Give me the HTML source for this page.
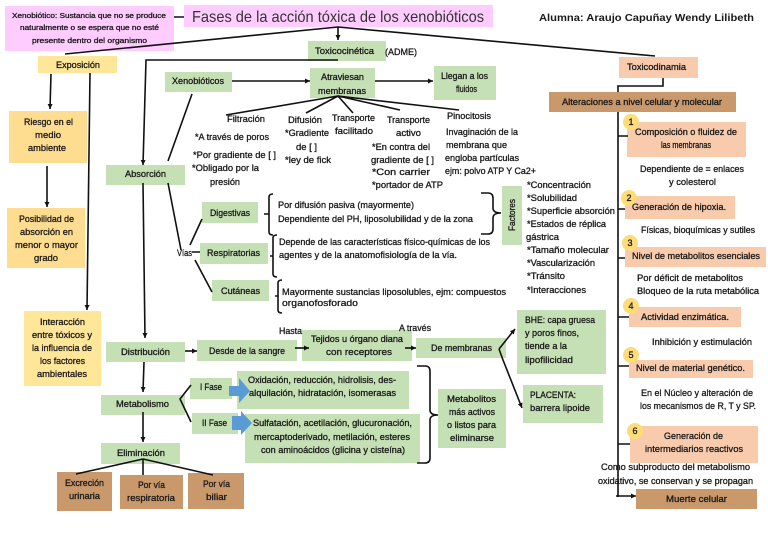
<!DOCTYPE html>
<html><head><meta charset="utf-8"><style>
html,body{margin:0;padding:0;background:#fff;width:768px;height:543px;overflow:hidden}
svg{display:block;filter:blur(.35px)}
text{font-family:"Liberation Sans",sans-serif;font-size:9px;fill:#1a1a1a;stroke:#1a1a1a;stroke-width:.3}
.l{stroke:#111;stroke-width:1.6;fill:none}
</style></head><body>
<svg width="768" height="543" viewBox="0 0 768 543" xmlns="http://www.w3.org/2000/svg">
<defs><marker id="a" markerWidth="6" markerHeight="6" refX="5" refY="2.5" orient="auto" markerUnits="userSpaceOnUse"><path d="M0 0L5 2.5L0 5z" fill="#111"/></marker></defs>
<g fill="#FFCCFF"><rect x="5" y="6" width="169" height="45"/><rect x="184" y="5" width="309" height="22"/></g>
<g fill="#FFE699"><rect x="38" y="56" width="79" height="17"/><rect x="9" y="111" width="78" height="52" fill="#FFDD90"/><rect x="7" y="208" width="78" height="60" fill="#FFDD90"/><rect x="24" y="311" width="77" height="75"/></g>
<g fill="#C5E0B4">
<rect x="308" y="41" width="78" height="20"/><rect x="165" y="72" width="67" height="20"/><rect x="310" y="68" width="65" height="30"/><rect x="434" y="66" width="62" height="34"/>
<rect x="106" y="165" width="79" height="20"/><rect x="202" y="202" width="56" height="21"/><rect x="200" y="243" width="68" height="21"/><rect x="212" y="280" width="57" height="21"/><rect x="502" y="186" width="20" height="59"/>
<rect x="106" y="342" width="79" height="20"/><rect x="197" y="340" width="100" height="21"/><rect x="302" y="330" width="110" height="31"/><rect x="416" y="338" width="90" height="20"/><rect x="517" y="310" width="89" height="64"/><rect x="523" y="385" width="80" height="38"/><rect x="438" y="389" width="68" height="59"/>
<rect x="101" y="395" width="84" height="20"/><rect x="190" y="378" width="42" height="21"/><rect x="192" y="413" width="46" height="21"/><rect x="237" y="371" width="172" height="38"/><rect x="245" y="414" width="175" height="49"/><rect x="101" y="443" width="79" height="21"/>
</g>
<g fill="#F8CBAD"><rect x="619" y="57" width="79" height="21"/><rect x="627" y="122" width="119" height="35"/><rect x="625" y="196" width="110" height="23"/><rect x="625" y="247" width="141" height="20"/><rect x="629" y="307" width="112" height="20"/><rect x="629" y="360" width="124" height="18"/><rect x="630" y="426" width="128" height="37"/></g>
<g fill="#C9986B"><rect x="549" y="92" width="187" height="20"/><rect x="636" y="489" width="121" height="20"/><rect x="57" y="472" width="55" height="39"/><rect x="120" y="475" width="63" height="34"/><rect x="188" y="473" width="56" height="36"/></g>
<g fill="#FFDC78"><circle cx="631" cy="122" r="8"/><circle cx="629" cy="198" r="8"/><circle cx="630" cy="243" r="8"/><circle cx="631" cy="306" r="8"/><circle cx="631" cy="355" r="8"/><circle cx="635" cy="431" r="8"/></g>
<g fill="#5B9BD5"><path d="M229 386H239V378L250 391L239 403V396H229z"/><path d="M232 416H241V411L252 423L241 435V430H232z"/></g>

<g class="l">
<path d="M174 17H184M65 54L338 27L655 56"/><path d="M338 27V40" marker-end="url(#a)"/>
<path d="M338 60H146L143 165" marker-end="url(#a)"/>
<path d="M51 74L50 109" marker-end="url(#a)"/><path d="M90 73L87 310" marker-end="url(#a)"/><path d="M47 166V207" marker-end="url(#a)"/>
<path d="M232 81H310" marker-end="url(#a)"/><path d="M375 81H433" marker-end="url(#a)"/><path d="M192 94L168 161"/>
<path d="M226 115L338 96L306 113M338 96L353 113M338 96L400 110M338 96L459 110"/>
<path d="M143 183L145 338" marker-end="url(#a)"/><path d="M168 183L181 250M190 245L202 219M192 252H200M195 260L212 292"/>
<path d="M273 194Q269 194 269 197V232Q269 235 273 235M269 214H264"/>
<path d="M277 235Q273 235 273 238V274Q273 277 277 277M273 256H270"/>
<path d="M282 280Q278 280 278 283V310Q278 313 282 313M278 296H275"/>
<path d="M481 193H488Q493 193 493 198V208Q493 213 501 213Q493 213 493 218V229Q493 234 488 234H481"/>
<path d="M185 351H197" marker-end="url(#a)"/><path d="M295 348H309" marker-end="url(#a)"/><path d="M405 348H416" marker-end="url(#a)"/>
<path d="M499 349L515 329" marker-end="url(#a)"/><path d="M499 349L503 360L522 408" marker-end="url(#a)"/>
<path d="M144 362L143 392" marker-end="url(#a)"/><path d="M143 412V442" marker-end="url(#a)"/><path d="M191 385L180 399L191 422"/>
<path d="M417 366H425Q430 366 430 371V410Q430 415 438 415Q430 415 430 420V458Q430 463 425 463H417"/>
<path d="M143 459L76 474M143 459V475M143 459L213 475"/>
<path d="M663 78V86H618V92M618 112V497M618 136H628M618 209H625M618 258H625M618 317H629M618 366H629M618 444H630"/><path d="M616 496H636" marker-end="url(#a)"/>
</g>

<g>
<text x="192" y="22" textLength="292" lengthAdjust="spacingAndGlyphs" style="font-size:16px;stroke:none;fill:#333">Fases de la acción tóxica de los xenobióticos</text>
<text x="539" y="21" textLength="215" lengthAdjust="spacingAndGlyphs" style="font-size:10px;font-weight:bold;stroke:none">Alumna: Araujo Capuñay Wendy Lilibeth</text>
<text x="12" y="18" textLength="154" lengthAdjust="spacingAndGlyphs" style="font-size:7px">Xenobiótico: Sustancia que no se produce</text>
<text x="20" y="30" textLength="139" lengthAdjust="spacingAndGlyphs" style="font-size:7px">naturalmente o se espera que no esté</text>
<text x="32" y="43" textLength="115" lengthAdjust="spacingAndGlyphs" style="font-size:7px">presente dentro del organismo</text>
<text x="315" y="54" textLength="59" lengthAdjust="spacingAndGlyphs">Toxicocinética</text>
<text x="385" y="55" textLength="32" lengthAdjust="spacingAndGlyphs">(ADME)</text>
<text x="56" y="68" textLength="44" lengthAdjust="spacingAndGlyphs">Exposición</text>
<text x="172" y="84" textLength="52" lengthAdjust="spacingAndGlyphs">Xenobióticos</text>
<text x="321" y="80" textLength="43" lengthAdjust="spacingAndGlyphs">Atraviesan</text>
<text x="318" y="94" textLength="48" lengthAdjust="spacingAndGlyphs">membranas</text>
<text x="441" y="79" textLength="47" lengthAdjust="spacingAndGlyphs">Llegan a los</text>
<text x="456" y="92" textLength="21" lengthAdjust="spacingAndGlyphs">fluidos</text>
<text x="627" y="70" textLength="59" lengthAdjust="spacingAndGlyphs">Toxicodinamia</text>
<text x="562" y="105" textLength="160" lengthAdjust="spacingAndGlyphs">Alteraciones a nivel celular y molecular</text>
<text x="635" y="135" textLength="102" lengthAdjust="spacingAndGlyphs">Composición o fluidez de</text>
<text x="661" y="148" textLength="50" lengthAdjust="spacingAndGlyphs">las membranas</text>
<text x="640" y="172" textLength="104" lengthAdjust="spacingAndGlyphs">Dependiente de = enlaces</text>
<text x="669" y="185" textLength="47" lengthAdjust="spacingAndGlyphs">y colesterol</text>
<text x="227" y="122" textLength="38" lengthAdjust="spacingAndGlyphs">Filtración</text>
<text x="288" y="123" textLength="34" lengthAdjust="spacingAndGlyphs">Difusión</text>
<text x="332" y="121" textLength="43" lengthAdjust="spacingAndGlyphs">Transporte</text>
<text x="335" y="134" textLength="38" lengthAdjust="spacingAndGlyphs">facilitado</text>
<text x="387" y="123" textLength="43" lengthAdjust="spacingAndGlyphs">Transporte</text>
<text x="396" y="136" textLength="25" lengthAdjust="spacingAndGlyphs">activo</text>
<text x="447" y="119" textLength="44" lengthAdjust="spacingAndGlyphs">Pinocitosis</text>
<text x="446" y="135" textLength="72" lengthAdjust="spacingAndGlyphs">Invaginación de la</text>
<text x="446" y="148" textLength="61" lengthAdjust="spacingAndGlyphs">membrana que</text>
<text x="445" y="161" textLength="74" lengthAdjust="spacingAndGlyphs">engloba partículas</text>
<text x="445" y="174" textLength="91" lengthAdjust="spacingAndGlyphs">ejm: polvo ATP Y Ca2+</text>
<text x="195" y="140" textLength="74" lengthAdjust="spacingAndGlyphs">*A través de poros</text>
<text x="285" y="136" textLength="44" lengthAdjust="spacingAndGlyphs">*Gradiente</text>
<text x="296" y="150" textLength="21" lengthAdjust="spacingAndGlyphs">de [ ]</text>
<text x="285" y="163" textLength="46" lengthAdjust="spacingAndGlyphs">*ley de fick</text>
<text x="193" y="158" textLength="83" lengthAdjust="spacingAndGlyphs">*Por gradiente de [ ]</text>
<text x="192" y="171" textLength="67" lengthAdjust="spacingAndGlyphs">*Obligado por la</text>
<text x="210" y="185" textLength="30" lengthAdjust="spacingAndGlyphs">presión</text>
<text x="372" y="150" textLength="58" lengthAdjust="spacingAndGlyphs">*En contra del</text>
<text x="371" y="163" textLength="63" lengthAdjust="spacingAndGlyphs">gradiente de [ ]</text>
<text x="372" y="175" textLength="58" lengthAdjust="spacingAndGlyphs">*Con carrier</text>
<text x="372" y="188" textLength="71" lengthAdjust="spacingAndGlyphs">*portador de ATP</text>
<text x="527" y="188" textLength="64" lengthAdjust="spacingAndGlyphs">*Concentración</text>
<text x="527" y="201" textLength="50" lengthAdjust="spacingAndGlyphs">*Solubilidad</text>
<text x="527" y="214" textLength="88" lengthAdjust="spacingAndGlyphs">*Superficie absorción</text>
<text x="527" y="227" textLength="79" lengthAdjust="spacingAndGlyphs">*Estados de réplica</text>
<text x="526" y="240" textLength="33" lengthAdjust="spacingAndGlyphs">gástrica</text>
<text x="527" y="253" textLength="82" lengthAdjust="spacingAndGlyphs">*Tamaño molecular</text>
<text x="527" y="266" textLength="68" lengthAdjust="spacingAndGlyphs">*Vascularización</text>
<text x="527" y="279" textLength="38" lengthAdjust="spacingAndGlyphs">*Tránsito</text>
<text x="527" y="293" textLength="59" lengthAdjust="spacingAndGlyphs">*Interacciones</text>
<text transform="translate(515,231) rotate(-90)" textLength="32" lengthAdjust="spacingAndGlyphs">Factores</text>
<text x="24" y="125" textLength="49" lengthAdjust="spacingAndGlyphs">Riesgo en el</text>
<text x="35" y="138" textLength="26" lengthAdjust="spacingAndGlyphs">medio</text>
<text x="28" y="151" textLength="38" lengthAdjust="spacingAndGlyphs">ambiente</text>
<text x="19" y="222" textLength="55" lengthAdjust="spacingAndGlyphs">Posibilidad de</text>
<text x="20" y="235" textLength="53" lengthAdjust="spacingAndGlyphs">absorción en</text>
<text x="15" y="248" textLength="63" lengthAdjust="spacingAndGlyphs">menor o mayor</text>
<text x="34" y="261" textLength="24" lengthAdjust="spacingAndGlyphs">grado</text>
<text x="40" y="325" textLength="45" lengthAdjust="spacingAndGlyphs">Interacción</text>
<text x="32" y="338" textLength="60" lengthAdjust="spacingAndGlyphs">entre tóxicos y</text>
<text x="32" y="351" textLength="60" lengthAdjust="spacingAndGlyphs">la influencia de</text>
<text x="40" y="364" textLength="45" lengthAdjust="spacingAndGlyphs">los factores</text>
<text x="37" y="377" textLength="50" lengthAdjust="spacingAndGlyphs">ambientales</text>
<text x="125" y="177" textLength="41" lengthAdjust="spacingAndGlyphs">Absorción</text>
<text x="210" y="216" textLength="40" lengthAdjust="spacingAndGlyphs">Digestivas</text>
<text x="207" y="256" textLength="53" lengthAdjust="spacingAndGlyphs">Respiratorias</text>
<text x="221" y="294" textLength="39" lengthAdjust="spacingAndGlyphs">Cutáneas</text>
<text x="177" y="256" textLength="15" lengthAdjust="spacingAndGlyphs">Vías</text>
<text x="278" y="208" textLength="136" lengthAdjust="spacingAndGlyphs">Por difusión pasiva (mayormente)</text>
<text x="278" y="222" textLength="195" lengthAdjust="spacingAndGlyphs">Dependiente del PH, liposolubilidad y de la zona</text>
<text x="279" y="245" textLength="211" lengthAdjust="spacingAndGlyphs">Depende de las características físico-químicas de los</text>
<text x="279" y="258" textLength="178" lengthAdjust="spacingAndGlyphs">agentes y de la anatomofisiología de la vía.</text>
<text x="282" y="295" textLength="224" lengthAdjust="spacingAndGlyphs">Mayormente sustancias liposolubles, ejm: compuestos</text>
<text x="282" y="306" textLength="76" lengthAdjust="spacingAndGlyphs">organofosforado</text>
<text x="121" y="355" textLength="49" lengthAdjust="spacingAndGlyphs">Distribución</text>
<text x="209" y="354" textLength="76" lengthAdjust="spacingAndGlyphs">Desde de la sangre</text>
<text x="279" y="334" textLength="23" lengthAdjust="spacingAndGlyphs">Hasta</text>
<text x="311" y="342" textLength="92" lengthAdjust="spacingAndGlyphs">Tejidos u órgano diana</text>
<text x="326" y="355" textLength="66" lengthAdjust="spacingAndGlyphs">con receptores</text>
<text x="399" y="331" textLength="32" lengthAdjust="spacingAndGlyphs">A través</text>
<text x="431" y="351" textLength="61" lengthAdjust="spacingAndGlyphs">De membranas</text>
<text x="525" y="323" textLength="70" lengthAdjust="spacingAndGlyphs">BHE: capa gruesa</text>
<text x="525" y="336" textLength="54" lengthAdjust="spacingAndGlyphs">y poros finos,</text>
<text x="525" y="349" textLength="42" lengthAdjust="spacingAndGlyphs">tiende a la</text>
<text x="525" y="363" textLength="48" lengthAdjust="spacingAndGlyphs">lipofilicidad</text>
<text x="530" y="398" textLength="46" lengthAdjust="spacingAndGlyphs">PLACENTA:</text>
<text x="530" y="411" textLength="60" lengthAdjust="spacingAndGlyphs">barrera lipoide</text>
<text x="447" y="402" textLength="49" lengthAdjust="spacingAndGlyphs">Metabolitos</text>
<text x="449" y="415" textLength="46" lengthAdjust="spacingAndGlyphs">más activos</text>
<text x="447" y="428" textLength="49" lengthAdjust="spacingAndGlyphs">o listos para</text>
<text x="450" y="441" textLength="44" lengthAdjust="spacingAndGlyphs">eliminarse</text>
<text x="116" y="407" textLength="53" lengthAdjust="spacingAndGlyphs">Metabolismo</text>
<text x="200" y="390" textLength="22" lengthAdjust="spacingAndGlyphs">I Fase</text>
<text x="202" y="426" textLength="25" lengthAdjust="spacingAndGlyphs">II Fase</text>
<text x="117" y="456" textLength="48" lengthAdjust="spacingAndGlyphs">Eliminación</text>
<text x="248" y="383" textLength="148" lengthAdjust="spacingAndGlyphs">Oxidación, reducción, hidrolisis, des-</text>
<text x="249" y="396" textLength="147" lengthAdjust="spacingAndGlyphs">alquilación, hidratación, isomerasas</text>
<text x="253" y="426" textLength="159" lengthAdjust="spacingAndGlyphs">Sulfatación, acetilación, glucuronación,</text>
<text x="254" y="440" textLength="156" lengthAdjust="spacingAndGlyphs">mercaptoderivado, metilación, esteres</text>
<text x="261" y="453" textLength="144" lengthAdjust="spacingAndGlyphs">con aminoácidos (glicina y cisteína)</text>
<text x="65" y="486" textLength="39" lengthAdjust="spacingAndGlyphs">Excreción</text>
<text x="69" y="499" textLength="31" lengthAdjust="spacingAndGlyphs">urinaria</text>
<text x="138" y="488" textLength="27" lengthAdjust="spacingAndGlyphs">Por vía</text>
<text x="127" y="501" textLength="48" lengthAdjust="spacingAndGlyphs">respiratoria</text>
<text x="203" y="487" textLength="27" lengthAdjust="spacingAndGlyphs">Por vía</text>
<text x="206" y="500" textLength="21" lengthAdjust="spacingAndGlyphs">biliar</text>
<text x="632" y="210" textLength="94" lengthAdjust="spacingAndGlyphs">Generación de hipoxia.</text>
<text x="641" y="233" textLength="114" lengthAdjust="spacingAndGlyphs">Físicas, bioquímicas y sutiles</text>
<text x="632" y="259" textLength="128" lengthAdjust="spacingAndGlyphs">Nivel de metabolitos esenciales</text>
<text x="637" y="281" textLength="106" lengthAdjust="spacingAndGlyphs">Por déficit de metabolitos</text>
<text x="637" y="294" textLength="122" lengthAdjust="spacingAndGlyphs">Bloqueo de la ruta metabólica</text>
<text x="641" y="320" textLength="88" lengthAdjust="spacingAndGlyphs">Actividad enzimática.</text>
<text x="652" y="345" textLength="100" lengthAdjust="spacingAndGlyphs">Inhibición y estimulación</text>
<text x="636" y="371" textLength="109" lengthAdjust="spacingAndGlyphs">Nivel de material genético.</text>
<text x="641" y="396" textLength="112" lengthAdjust="spacingAndGlyphs">En el Núcleo y alteración de</text>
<text x="640" y="409" textLength="116" lengthAdjust="spacingAndGlyphs">los mecanismos de R, T y SP.</text>
<text x="664" y="439" textLength="59" lengthAdjust="spacingAndGlyphs">Generación de</text>
<text x="645" y="452" textLength="98" lengthAdjust="spacingAndGlyphs">intermediarios reactivos</text>
<text x="601" y="470" textLength="149" lengthAdjust="spacingAndGlyphs">Como subproducto del metabolismo</text>
<text x="598" y="484" textLength="155" lengthAdjust="spacingAndGlyphs">oxidativo, se conservan y se propagan</text>
<text x="666" y="502" textLength="61" lengthAdjust="spacingAndGlyphs">Muerte celular</text>
<text x="628.5" y="125">1</text><text x="626.5" y="201">2</text><text x="627.5" y="246">3</text><text x="628.5" y="309">4</text><text x="628.5" y="358">5</text><text x="632.5" y="434">6</text>
</g>
</svg>
</body></html>
